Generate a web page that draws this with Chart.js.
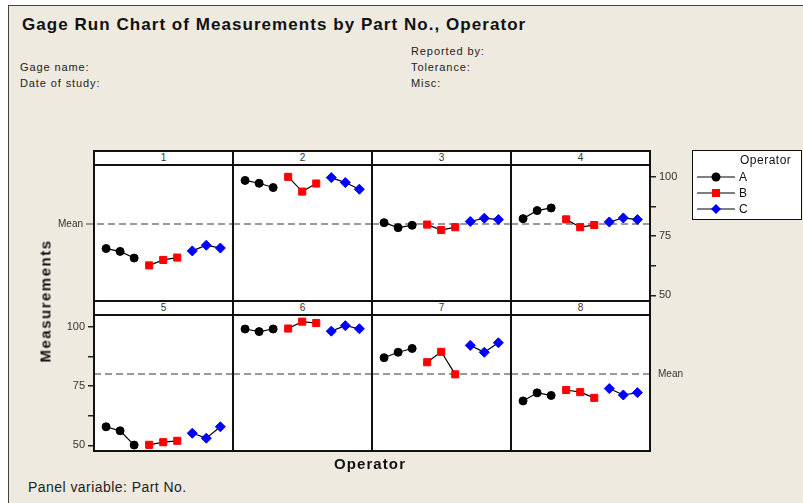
<!DOCTYPE html>
<html>
<head>
<meta charset="utf-8">
<script src="https://cdn.jsdelivr.net/npm/chart.js@4"></script>
<style>
body { margin: 0; background: #fff; font-family: "Liberation Sans", Arial, sans-serif; color: #111; }
#page { position: relative; width: 803px; height: 503px; overflow: hidden; }
#frame { position: absolute; left: 8px; top: 5px; width: 800px; height: 500px; background: #EEEAE0;
         border-left: 1px solid #444; border-top: 1px solid #444; }
.t { position: absolute; white-space: nowrap; }
.info { font-size: 11px; line-height: 13px; color: #222; letter-spacing: 0.9px; }
.ln { position: absolute; background: #111; }
.strip { position: absolute; height: 14px; background: #fff; font-size: 10px; line-height: 14px; text-align: center; color: #333; }
.cv { position: absolute; }
#legend { position: absolute; left: 692px; top: 150px; width: 108px; height: 68px; background: #fff; border: 1px solid #111; font-size: 12px; }
</style>
</head>
<body>
<div id="page">
  <div id="frame"></div>
  <div class="t" style="left:22px;top:15px;font-size:17px;font-weight:bold;line-height:20px;letter-spacing:1.05px;">Gage Run Chart of Measurements by Part No., Operator</div>
  <div class="t info" style="left:20px;top:61px;">Gage name:</div>
  <div class="t info" style="left:20px;top:77px;">Date of study:</div>
  <div class="t info" style="left:411px;top:45px;">Reported by:</div>
  <div class="t info" style="left:411px;top:61px;">Tolerance:</div>
  <div class="t info" style="left:411px;top:77px;">Misc:</div>
  <div id="panels"></div>
  <div class="t" style="left:45px;top:301px;font-size:15px;font-weight:bold;letter-spacing:1.5px;transform:translate(-50%,-50%) rotate(-90deg);">Measurements</div>
  <div class="t" style="left:370px;top:463px;font-size:15px;font-weight:bold;letter-spacing:1.1px;transform:translate(-50%,-50%);">Operator</div>
  <div class="t" style="left:28px;top:479px;font-size:14px;line-height:16px;color:#222;letter-spacing:0.45px;">Panel variable: Part No.</div>
  <div id="legend"></div>
</div>
<script>
// data
const partNames = ['1', '2', '3', '4', '5', '6', '7', '8'];
const operators = ['A', 'B', 'C'];
const opA = [[69.7, 68.5, 65.7], [98.4, 97.2, 95.4], [80.6, 78.5, 79.5], [82.3, 85.7, 86.8],
             [57.8, 56.1, 50.1], [99.0, 97.9, 99.0], [86.9, 89.2, 90.8], [68.7, 72.1, 71.0]];
const opB = [[62.6, 64.9, 65.9], [99.9, 93.7, 97.1], [79.8, 77.5, 78.7], [82.0, 78.7, 79.6],
             [50.2, 51.3, 51.9], [99.2, 102.1, 101.5], [85.0, 89.4, 79.9], [73.3, 72.4, 70.0]];
const opC = [[68.7, 71.1, 69.9], [99.6, 97.5, 94.7], [81.1, 82.5, 81.9], [80.9, 82.6, 81.9],
             [55.1, 53.0, 57.8], [98.1, 100.4, 99.1], [92.1, 89.2, 93.2], [73.9, 71.2, 72.2]];
const yTicks = [50, 62.5, 75, 87.5, 100];
const yTickLabels = ['50', '', '75', '', '100'];

const opData = [opA, opB, opC];
const opColors = ['#000000', '#ff0000', '#0000ff'];
const opStyles = ['circle', 'rect', 'rectRot'];
const opRadius = [4, 5, 5];

const allVals = opData.flat(2);
const grandMean = allVals.reduce((a, b) => a + b, 0) / allVals.length;

// layout
const colLeft = [94, 233, 372, 511];
const colW = 139;
const stripTop = [151, 301];
const plotTop = [165, 315];
const plotH = 136;
const rightEdge = colLeft[3] + colW;

const panelsEl = document.getElementById('panels');

function addLine(x, y, w, h) {
    const d = document.createElement('div');
    d.className = 'ln';
    d.style.cssText = `left:${x}px;top:${y}px;width:${w}px;height:${h}px;`;
    panelsEl.appendChild(d);
}

const meanPlugin = {
    id: 'meanLine',
    beforeDraw(chart) {
        const a = chart.chartArea, c = chart.ctx;
        c.save();
        c.fillStyle = '#fff';
        c.fillRect(a.left, a.top, a.right - a.left, a.bottom - a.top);
        c.restore();
    },
    beforeDatasetsDraw(chart, args, opts) {
        const a = chart.chartArea, c = chart.ctx;
        const y = chart.scales.y.getPixelForValue(grandMean);
        c.save();
        c.strokeStyle = '#9a9a9a';
        c.lineWidth = 2;
        c.setLineDash([7, 4]);
        c.beginPath();
        c.moveTo(opts.side === 'left' ? a.left - 8 : a.left, y);
        c.lineTo(a.right, y);
        c.stroke();
        if (opts.side) {
            c.setLineDash([]);
            c.fillStyle = '#333';
            c.font = '10px "Liberation Sans", Arial, sans-serif';
            c.textBaseline = 'middle';
            if (opts.side === 'left') {
                c.textAlign = 'right';
                c.fillText('Mean', a.left - 11, y);
            } else {
                c.textAlign = 'left';
                c.fillText('Mean', a.right + 8, y);
            }
        }
        c.restore();
    }
};

function makeYAxis(pos) {
    return {
        display: true,
        position: pos,
        min: 47.6,
        max: 104.9,
        border: { display: false },
        grid: { drawOnChartArea: false, drawTicks: true, tickLength: 6, color: '#222', lineWidth: 1.5 },
        ticks: {
            color: '#333',
            padding: 3,
            font: { size: 11, family: '"Liberation Sans", Arial, sans-serif' },
            callback: (v) => yTickLabels[yTicks.indexOf(v)] ?? ''
        },
        afterBuildTicks: (s) => { s.ticks = yTicks.map(v => ({ value: v })); },
        afterFit: (s) => { s.width = 40; s.paddingTop = 0; s.paddingBottom = 0; }
    };
}

partNames.forEach((name, p) => {
    const row = Math.floor(p / 4), col = p % 4;
    const left = colLeft[col];

    const strip = document.createElement('div');
    strip.className = 'strip';
    strip.style.cssText = `left:${left}px;top:${stripTop[row]}px;width:${colW}px;`;
    strip.textContent = name;
    panelsEl.appendChild(strip);

    let extraL = 0, extraR = 0, yAxis = { display: false, min: 47.6, max: 104.9 }, meanSide = null, padL = 0, padR = 0;
    if (p === 0) { extraL = 45; padL = 45; meanSide = 'left'; }
    if (p === 3) { extraR = 40; yAxis = makeYAxis('right'); }
    if (p === 4) { extraL = 40; yAxis = makeYAxis('left'); }
    if (p === 7) { extraR = 45; padR = 45; meanSide = 'right'; }

    const cv = document.createElement('canvas');
    cv.className = 'cv';
    cv.width = colW + extraL + extraR;
    cv.height = plotH;
    cv.style.cssText = `left:${left - extraL}px;top:${plotTop[row]}px;width:${cv.width}px;height:${plotH}px;`;
    panelsEl.appendChild(cv);

    const datasets = operators.map((op, o) => ({
        label: op,
        data: opData[o][p].map((v, k) => ({ x: 1 + o * 3.07 + k, y: v })),
        showLine: true,
        borderColor: '#000',
        borderWidth: 1.2,
        pointStyle: opStyles[o],
        pointRadius: opRadius[o],
        pointBackgroundColor: opColors[o],
        pointBorderColor: opColors[o],
        pointBorderWidth: 1
    }));

    new Chart(cv, {
        type: 'scatter',
        data: { datasets },
        options: {
            responsive: false,
            animation: false,
            devicePixelRatio: 1,
            events: [],
            layout: { autoPadding: false, padding: { left: padL, right: padR, top: 0, bottom: 0 } },
            scales: {
                x: { display: false, type: 'linear', min: 0.14, max: 10.04 },
                y: yAxis
            },
            plugins: {
                legend: { display: false },
                tooltip: { enabled: false },
                meanLine: { side: meanSide }
            }
        },
        plugins: [meanPlugin]
    });
});

// frame lines
[94, 233, 372, 511, 650].forEach(x => addLine(x - 1, stripTop[0], 2, plotTop[1] + plotH - stripTop[0] + 1));
[stripTop[0], plotTop[0], stripTop[1], plotTop[1], plotTop[1] + plotH].forEach(y => addLine(colLeft[0] - 1, y - 1, rightEdge - colLeft[0] + 2, 2));

// legend
const legendEl = document.getElementById('legend');
let html = '<div class="t" style="left:47px;top:1px;line-height:16px;letter-spacing:0.5px;">Operator</div>';
const markerSvg = [
    '<circle cx="19" cy="7" r="4.5" fill="#000"/>',
    '<rect x="15" y="3" width="8" height="8" fill="#f00"/>',
    '<polygon points="19,2 24,7 19,12 14,7" fill="#00f"/>'
];
operators.forEach((op, o) => {
    const top = 19 + o * 16;
    html += `<svg class="t" style="left:4px;top:${top}px;" width="40" height="14">` +
            `<line x1="0" y1="7" x2="38" y2="7" stroke="#000" stroke-width="1.2"/>${markerSvg[o]}</svg>`;
    html += `<div class="t" style="left:46px;top:${top - 1}px;line-height:16px;">${op}</div>`;
});
legendEl.innerHTML = html;
</script>
</body>
</html>
